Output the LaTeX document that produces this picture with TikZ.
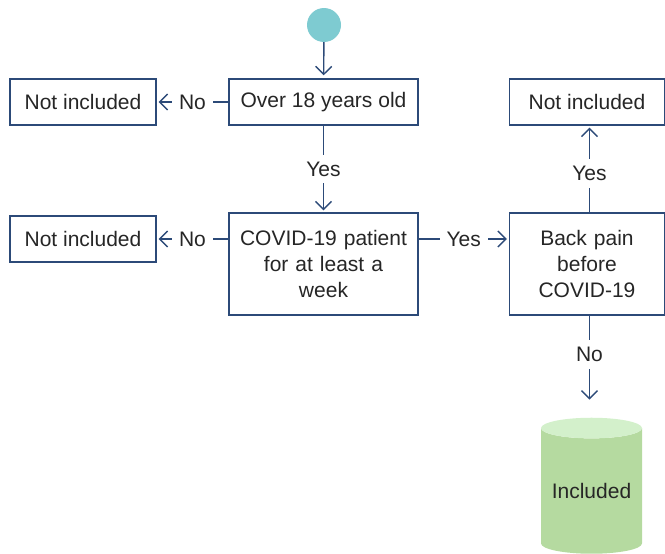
\documentclass[tikz,border=0pt]{standalone}
\usepackage{fontspec}
\setmainfont{Liberation Sans}
\usetikzlibrary{shapes.geometric,arrows.meta}
\definecolor{navy}{HTML}{2C4A78}
\definecolor{dotcol}{HTML}{7ECBD1}
\definecolor{incbody}{HTML}{B5DAA0}
\definecolor{inctop}{HTML}{D3F0CB}
\definecolor{txt}{HTML}{262626}

\begin{document}
\begin{tikzpicture}[x=1pt,y=-1pt,
        font=\fontsize{21}{26}\selectfont, text=txt,
        box/.style={draw=navy, line width=1.4pt, fill=white, align=center, inner sep=0pt},
        flow/.style={draw=navy, line width=1.4pt, -{Straight Barb[length=8pt,width=16pt,line width=1.4pt]}},
        lbl/.style={fill=white, inner sep=7pt}]
        \useasboundingbox (0,0) rectangle (665,554);
        \node [circle, fill=dotcol, minimum size=34pt, inner sep=0pt] (start) at (324,25) {};
        \node [box, minimum width=189pt, minimum height=46pt] (over) at (323.5,102) {Over 18 years old};
        \node [box, minimum width=146pt, minimum height=46pt] (ni1) at (83,102) {Not included};
        \node [box, minimum width=189pt, minimum height=102pt, text width=189pt] (covid) at (323.5,264) {COVID-19 patient\\for at least a\\week};
        \node [box, minimum width=146pt, minimum height=46pt] (ni2) at (83,239) {Not included};
        \node [box, minimum width=155pt, minimum height=102pt, text width=155pt] (back) at (587,264) {Back pain\\before\\COVID-19};
        \node [box, minimum width=155pt, minimum height=46pt] (ni3) at (587,102) {Not included};
        \node [cylinder, shape border rotate=90, aspect=0.26, draw=none, cylinder uses custom fill,
               cylinder body fill=incbody, cylinder end fill=inctop,
               minimum width=101pt, minimum height=136pt, inner sep=0pt] (inc) at (591.5,491) {Included};
        \coordinate (bk) at (589.5,0);
        % connectors
        \draw [flow, shorten >=3pt] (start) -- (over);
        \draw [flow, shorten >=2pt] (over) -- node [lbl] {No} (ni1);
        \draw [flow, shorten >=2pt] (over) -- node [lbl] {Yes} (covid);
        \draw [flow, shorten >=2pt] (covid.west |- ni2) -- node [lbl] {No} (ni2);
        \draw [flow, shorten >=2pt] (covid.east |- ni2) -- node [lbl] {Yes} (back.west |- ni2);
        \draw [flow, shorten >=2pt] (back.north -| bk) -- node [lbl, pos=0.45] {Yes} (ni3.south -| bk);
        \draw [flow, shorten >=18pt] (back.south -| bk) -- node [lbl, pos=0.38] {No} (inc.top -| bk);
\end{tikzpicture}
\end{document}
